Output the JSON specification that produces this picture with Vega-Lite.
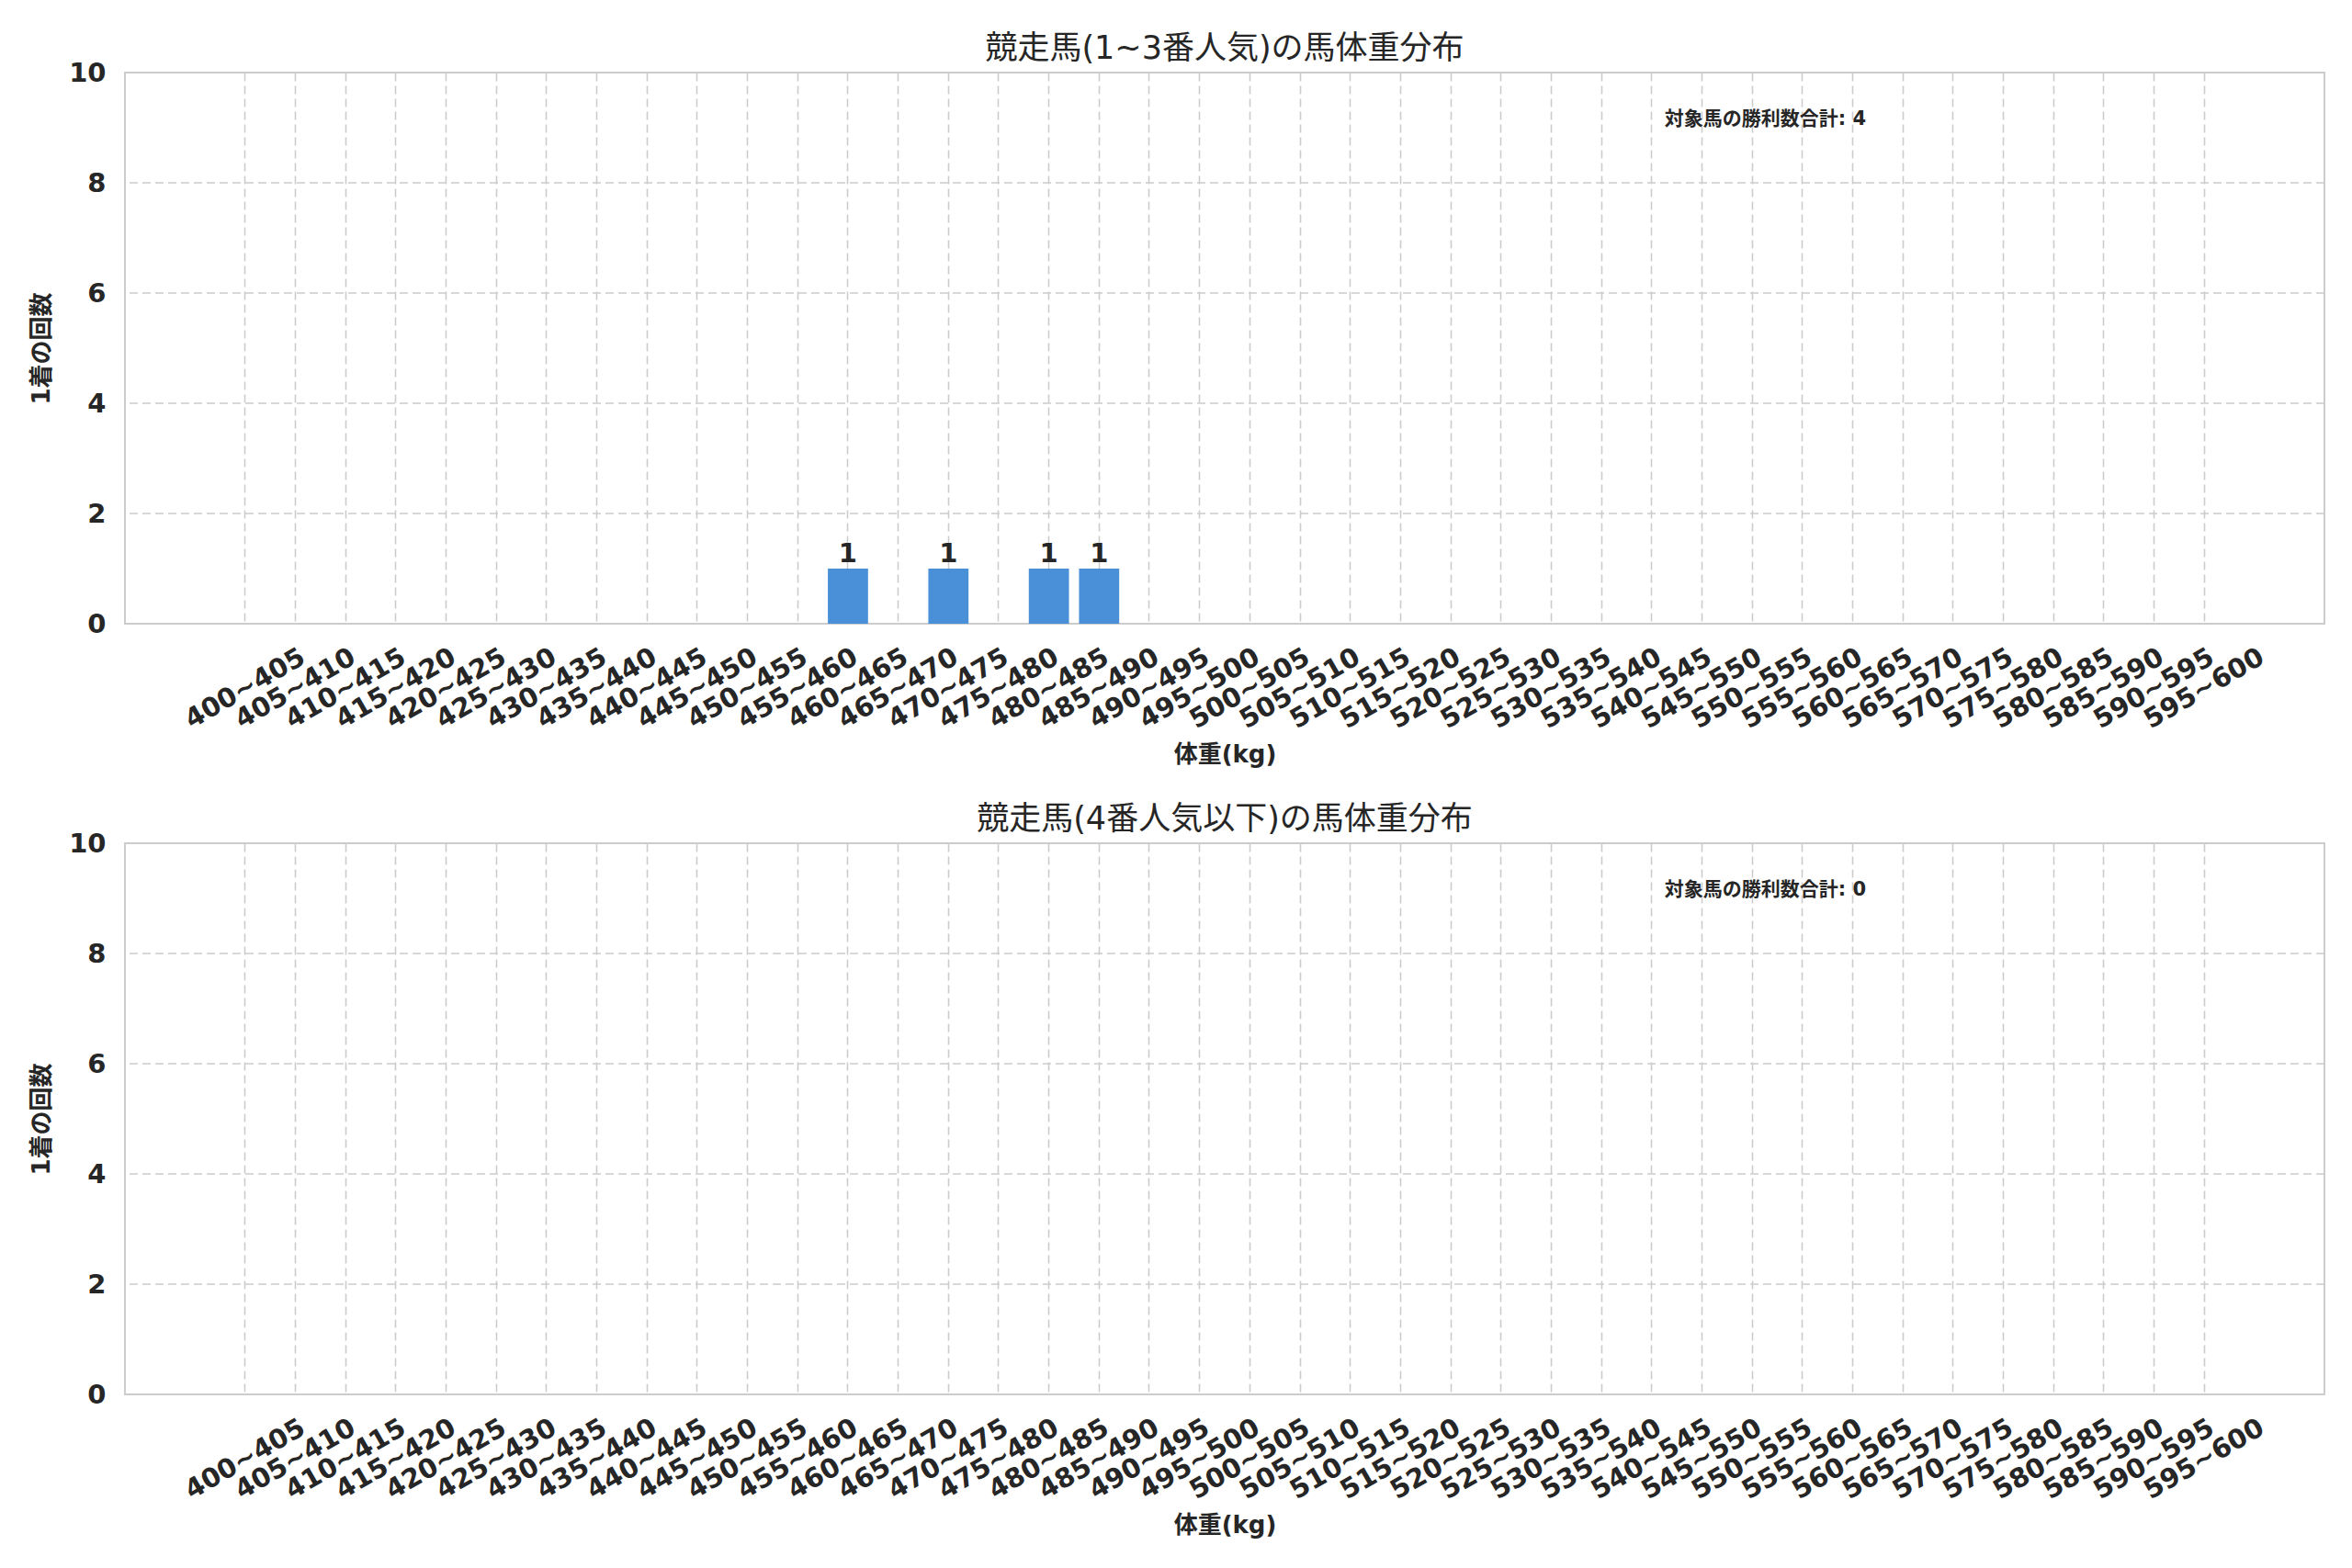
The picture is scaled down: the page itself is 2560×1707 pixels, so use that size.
{
  "$schema": "https://vega.github.io/schema/vega-lite/v6.json",
  "padding": {"left": 31, "top": 35, "right": 20, "bottom": 10},
  "spacing": 38,
  "datasets": {
    "top": [
      {"bin": "400~405", "count": 0}, {"bin": "405~410", "count": 0}, {"bin": "410~415", "count": 0}, {"bin": "415~420", "count": 0},
      {"bin": "420~425", "count": 0}, {"bin": "425~430", "count": 0}, {"bin": "430~435", "count": 0}, {"bin": "435~440", "count": 0},
      {"bin": "440~445", "count": 0}, {"bin": "445~450", "count": 0}, {"bin": "450~455", "count": 0}, {"bin": "455~460", "count": 0},
      {"bin": "460~465", "count": 1}, {"bin": "465~470", "count": 0}, {"bin": "470~475", "count": 1}, {"bin": "475~480", "count": 0},
      {"bin": "480~485", "count": 1}, {"bin": "485~490", "count": 1}, {"bin": "490~495", "count": 0}, {"bin": "495~500", "count": 0},
      {"bin": "500~505", "count": 0}, {"bin": "505~510", "count": 0}, {"bin": "510~515", "count": 0}, {"bin": "515~520", "count": 0},
      {"bin": "520~525", "count": 0}, {"bin": "525~530", "count": 0}, {"bin": "530~535", "count": 0}, {"bin": "535~540", "count": 0},
      {"bin": "540~545", "count": 0}, {"bin": "545~550", "count": 0}, {"bin": "550~555", "count": 0}, {"bin": "555~560", "count": 0},
      {"bin": "560~565", "count": 0}, {"bin": "565~570", "count": 0}, {"bin": "570~575", "count": 0}, {"bin": "575~580", "count": 0},
      {"bin": "580~585", "count": 0}, {"bin": "585~590", "count": 0}, {"bin": "590~595", "count": 0}, {"bin": "595~600", "count": 0}
    ],
    "bottom": [
      {"bin": "400~405", "count": 0}, {"bin": "405~410", "count": 0}, {"bin": "410~415", "count": 0}, {"bin": "415~420", "count": 0},
      {"bin": "420~425", "count": 0}, {"bin": "425~430", "count": 0}, {"bin": "430~435", "count": 0}, {"bin": "435~440", "count": 0},
      {"bin": "440~445", "count": 0}, {"bin": "445~450", "count": 0}, {"bin": "450~455", "count": 0}, {"bin": "455~460", "count": 0},
      {"bin": "460~465", "count": 0}, {"bin": "465~470", "count": 0}, {"bin": "470~475", "count": 0}, {"bin": "475~480", "count": 0},
      {"bin": "480~485", "count": 0}, {"bin": "485~490", "count": 0}, {"bin": "490~495", "count": 0}, {"bin": "495~500", "count": 0},
      {"bin": "500~505", "count": 0}, {"bin": "505~510", "count": 0}, {"bin": "510~515", "count": 0}, {"bin": "515~520", "count": 0},
      {"bin": "520~525", "count": 0}, {"bin": "525~530", "count": 0}, {"bin": "530~535", "count": 0}, {"bin": "535~540", "count": 0},
      {"bin": "540~545", "count": 0}, {"bin": "545~550", "count": 0}, {"bin": "550~555", "count": 0}, {"bin": "555~560", "count": 0},
      {"bin": "560~565", "count": 0}, {"bin": "565~570", "count": 0}, {"bin": "570~575", "count": 0}, {"bin": "575~580", "count": 0},
      {"bin": "580~585", "count": 0}, {"bin": "585~590", "count": 0}, {"bin": "590~595", "count": 0}, {"bin": "595~600", "count": 0}
    ],
    "ygrid": [{"tick": 2}, {"tick": 4}, {"tick": 6}, {"tick": 8}]
  },
  "vconcat": [
    {
      "title": "競走馬(1~3番人気)の馬体重分布",
      "width": 2394,
      "height": 600,
      "data": {"name": "top"},
      "layer": [
        {
          "data": {"name": "ygrid"},
          "mark": {"type": "rule", "color": "#cccccc", "strokeDash": [9, 5], "strokeWidth": 1.6},
          "encoding": {
            "y": {
              "field": "tick", "type": "quantitative",
              "scale": {"domain": [0, 10], "nice": false},
              "axis": {"title": "1着の回数", "values": [0, 2, 4, 6, 8, 10], "format": "d", "labelPadding": 21, "titlePadding": 16, "grid": false}
            }
          }
        },
        {
          "mark": {"type": "bar", "color": "#4a90d9"},
          "encoding": {
            "x": {
              "field": "bin", "type": "nominal",
              "scale": {"paddingInner": 0.2, "paddingOuter": 0, "range": [109, 2285]},
              "axis": {"title": "体重(kg)", "labelAngle": -30, "labelAlign": "center", "labelBaseline": "middle", "labelPadding": 70, "bandPosition": 0.5, "grid": true, "labelOverlap": false, "labelLimit": 0, "titlePadding": 10}
            },
            "y": {"field": "count", "type": "quantitative"}
          }
        },
        {
          "transform": [{"filter": "datum.count > 0"}],
          "mark": {"type": "text", "baseline": "bottom", "dy": -1, "fontSize": 29, "fontWeight": "bold", "color": "#262626"},
          "encoding": {
            "x": {"field": "bin", "type": "nominal"},
            "y": {"field": "count", "type": "quantitative"},
            "text": {"field": "count", "type": "quantitative", "format": "d"}
          }
        },
        {
          "transform": [{"filter": "datum.bin == '540~545'"}],
          "mark": {"type": "text", "text": "対象馬の勝利数合計: 4", "align": "left", "baseline": "middle", "dx": 14, "fontSize": 21, "fontWeight": "bold", "color": "#262626"},
          "encoding": {
            "x": {"field": "bin", "type": "nominal"},
            "y": {"datum": 9.15}
          }
        }
      ]
    },
    {
      "title": "競走馬(4番人気以下)の馬体重分布",
      "width": 2394,
      "height": 600,
      "data": {"name": "bottom"},
      "layer": [
        {
          "data": {"name": "ygrid"},
          "mark": {"type": "rule", "color": "#cccccc", "strokeDash": [9, 5], "strokeWidth": 1.6},
          "encoding": {
            "y": {
              "field": "tick", "type": "quantitative",
              "scale": {"domain": [0, 10], "nice": false},
              "axis": {"title": "1着の回数", "values": [0, 2, 4, 6, 8, 10], "format": "d", "labelPadding": 21, "titlePadding": 16, "grid": false}
            }
          }
        },
        {
          "mark": {"type": "bar", "color": "#4a90d9"},
          "encoding": {
            "x": {
              "field": "bin", "type": "nominal",
              "scale": {"paddingInner": 0.2, "paddingOuter": 0, "range": [109, 2285]},
              "axis": {"title": "体重(kg)", "labelAngle": -30, "labelAlign": "center", "labelBaseline": "middle", "labelPadding": 70, "bandPosition": 0.5, "grid": true, "labelOverlap": false, "labelLimit": 0, "titlePadding": 10}
            },
            "y": {"field": "count", "type": "quantitative"}
          }
        },
        {
          "transform": [{"filter": "datum.count > 0"}],
          "mark": {"type": "text", "baseline": "bottom", "dy": -1, "fontSize": 29, "fontWeight": "bold", "color": "#262626"},
          "encoding": {
            "x": {"field": "bin", "type": "nominal"},
            "y": {"field": "count", "type": "quantitative"},
            "text": {"field": "count", "type": "quantitative", "format": "d"}
          }
        },
        {
          "transform": [{"filter": "datum.bin == '540~545'"}],
          "mark": {"type": "text", "text": "対象馬の勝利数合計: 0", "align": "left", "baseline": "middle", "dx": 14, "fontSize": 21, "fontWeight": "bold", "color": "#262626"},
          "encoding": {
            "x": {"field": "bin", "type": "nominal"},
            "y": {"datum": 9.15}
          }
        }
      ]
    }
  ],
  "config": {
    "font": "DejaVu Sans, Noto Sans CJK JP",
    "background": "white",
    "view": {"stroke": "#cccccc", "strokeWidth": 2},
    "axis": {
      "labelFont": "DejaVu Sans, Noto Sans CJK JP",
      "labelFontSize": 29,
      "labelFontWeight": "bold",
      "labelColor": "#262626",
      "titleFont": "DejaVu Sans, Noto Sans CJK JP",
      "titleFontSize": 26,
      "titleFontWeight": "bold",
      "titleColor": "#262626",
      "domain": false,
      "ticks": false,
      "tickSize": 0,
      "gridColor": "#cccccc",
      "gridDash": [9, 5],
      "gridWidth": 1.6
    },
    "title": {
      "font": "DejaVu Sans, Noto Sans CJK JP",
      "fontSize": 35,
      "fontWeight": "normal",
      "color": "#262626",
      "frame": "group",
      "offset": -6
    }
  }
}
